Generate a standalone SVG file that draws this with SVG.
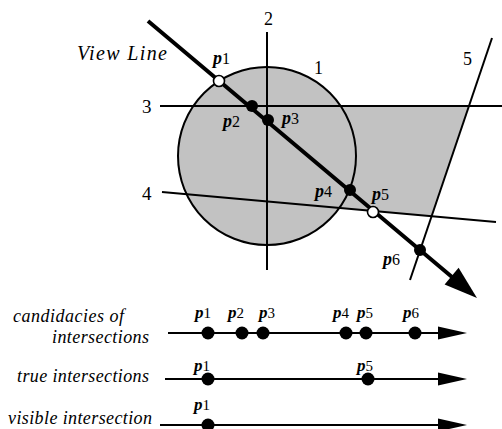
<svg xmlns="http://www.w3.org/2000/svg" width="502" height="429" viewBox="0 0 502 429">
<style>
.ln{stroke:#000;stroke-width:2;fill:none}
.vl{stroke:#000;stroke-width:4;fill:none}
.dot{fill:#000}
.open{fill:#fff;stroke:#000;stroke-width:1.6}
</style>
<defs>
<polygon id="ah" points="0,0 -29,-6.5 -29,6.5" fill="#000"/>
</defs>
<rect width="502" height="429" fill="#fff"/>
<g id="shading">
<circle cx="267" cy="156" r="89" fill="#c2c2c2"/>
<polygon points="267,106 469,106 431.6,216.2 267,201.4" fill="#c2c2c2"/>
</g>
<g id="lines">
<circle id="line1" class="ln" cx="267" cy="156" r="89"/>
<line id="line2" class="ln" x1="267" y1="32" x2="267" y2="270"/>
<line id="line3" class="ln" x1="160" y1="106" x2="502" y2="106"/>
<line id="line4" class="ln" x1="162" y1="192" x2="496" y2="222"/>
<line id="line5" class="ln" x1="492" y1="38" x2="410" y2="280"/>
</g>
<g id="viewline">
<line class="vl" x1="148" y1="21" x2="452" y2="277"/>
<polygon points="477,298 444.6,284.5 458.6,267.8" fill="#000"/>
</g>
<g id="points">
<circle class="open" cx="219" cy="81" r="5.5"/>
<circle class="dot" cx="252" cy="106" r="6"/>
<circle class="dot" cx="268" cy="120" r="6"/>
<circle class="dot" cx="350" cy="190" r="6"/>
<circle class="open" cx="373" cy="212" r="5.5"/>
<circle class="dot" cx="420" cy="250" r="6"/>
</g>
<g id="labels" font-family="Liberation Serif, Times New Roman, serif" fill="#000">
<text x="77" y="60" font-size="20" font-style="italic" textLength="90" lengthAdjust="spacing">View  Line</text>
<text x="264" y="25" font-size="18">2</text>
<text x="314" y="74" font-size="18">1</text>
<text x="463" y="65" font-size="18">5</text>
<text x="142" y="113" font-size="19">3</text>
<text x="142" y="200" font-size="19">4</text>
<g font-size="16">
<text x="213" y="64"><tspan font-size="18" font-weight="bold" font-style="italic">p</tspan>1</text>
<text x="223" y="127"><tspan font-size="18" font-weight="bold" font-style="italic">p</tspan>2</text>
<text x="282" y="124"><tspan font-size="18" font-weight="bold" font-style="italic">p</tspan>3</text>
<text x="315" y="197"><tspan font-size="18" font-weight="bold" font-style="italic">p</tspan>4</text>
<text x="372" y="200"><tspan font-size="18" font-weight="bold" font-style="italic">p</tspan>5</text>
<text x="383" y="265"><tspan font-size="18" font-weight="bold" font-style="italic">p</tspan>6</text>
</g>
</g>
<g id="row1" font-family="Liberation Serif, Times New Roman, serif" fill="#000">
<text x="13" y="322" font-size="18" font-style="italic" textLength="111" lengthAdjust="spacing">candidacies of</text>
<text x="52" y="343" font-size="18" font-style="italic" textLength="97" lengthAdjust="spacing">intersections</text>
<line class="ln" x1="168" y1="333" x2="440" y2="333"/>
<use href="#ah" x="467" y="333"/>
<circle class="dot" cx="208" cy="333" r="6.5"/>
<circle class="dot" cx="242" cy="333" r="6.5"/>
<circle class="dot" cx="263" cy="333" r="6.5"/>
<circle class="dot" cx="346" cy="333" r="6.5"/>
<circle class="dot" cx="366" cy="333" r="6.5"/>
<circle class="dot" cx="415" cy="333" r="6.5"/>
<g font-size="15">
<text x="195" y="318"><tspan font-size="17" font-weight="bold" font-style="italic">p</tspan>1</text>
<text x="228" y="318"><tspan font-size="17" font-weight="bold" font-style="italic">p</tspan>2</text>
<text x="259" y="318"><tspan font-size="17" font-weight="bold" font-style="italic">p</tspan>3</text>
<text x="333" y="318"><tspan font-size="17" font-weight="bold" font-style="italic">p</tspan>4</text>
<text x="357" y="318"><tspan font-size="17" font-weight="bold" font-style="italic">p</tspan>5</text>
<text x="403" y="318"><tspan font-size="17" font-weight="bold" font-style="italic">p</tspan>6</text>
</g>
</g>
<g id="row2" font-family="Liberation Serif, Times New Roman, serif" fill="#000">
<text x="17" y="382" font-size="18" font-style="italic" textLength="132" lengthAdjust="spacing">true intersections</text>
<line class="ln" x1="165" y1="379" x2="440" y2="379"/>
<use href="#ah" x="467" y="379"/>
<circle class="dot" cx="208" cy="379" r="6.5"/>
<circle class="dot" cx="368" cy="379" r="6.5"/>
<g font-size="15">
<text x="194" y="371"><tspan font-size="17" font-weight="bold" font-style="italic">p</tspan>1</text>
<text x="357" y="371"><tspan font-size="17" font-weight="bold" font-style="italic">p</tspan>5</text>
</g>
</g>
<g id="row3" font-family="Liberation Serif, Times New Roman, serif" fill="#000">
<text x="8" y="424" font-size="18" font-style="italic" textLength="144" lengthAdjust="spacing">visible intersection</text>
<line class="ln" x1="160" y1="425" x2="440" y2="425"/>
<use href="#ah" x="467" y="425"/>
<circle class="dot" cx="208" cy="425" r="6.5"/>
<g font-size="15">
<text x="194" y="410"><tspan font-size="17" font-weight="bold" font-style="italic">p</tspan>1</text>
</g>
</g>
</svg>
